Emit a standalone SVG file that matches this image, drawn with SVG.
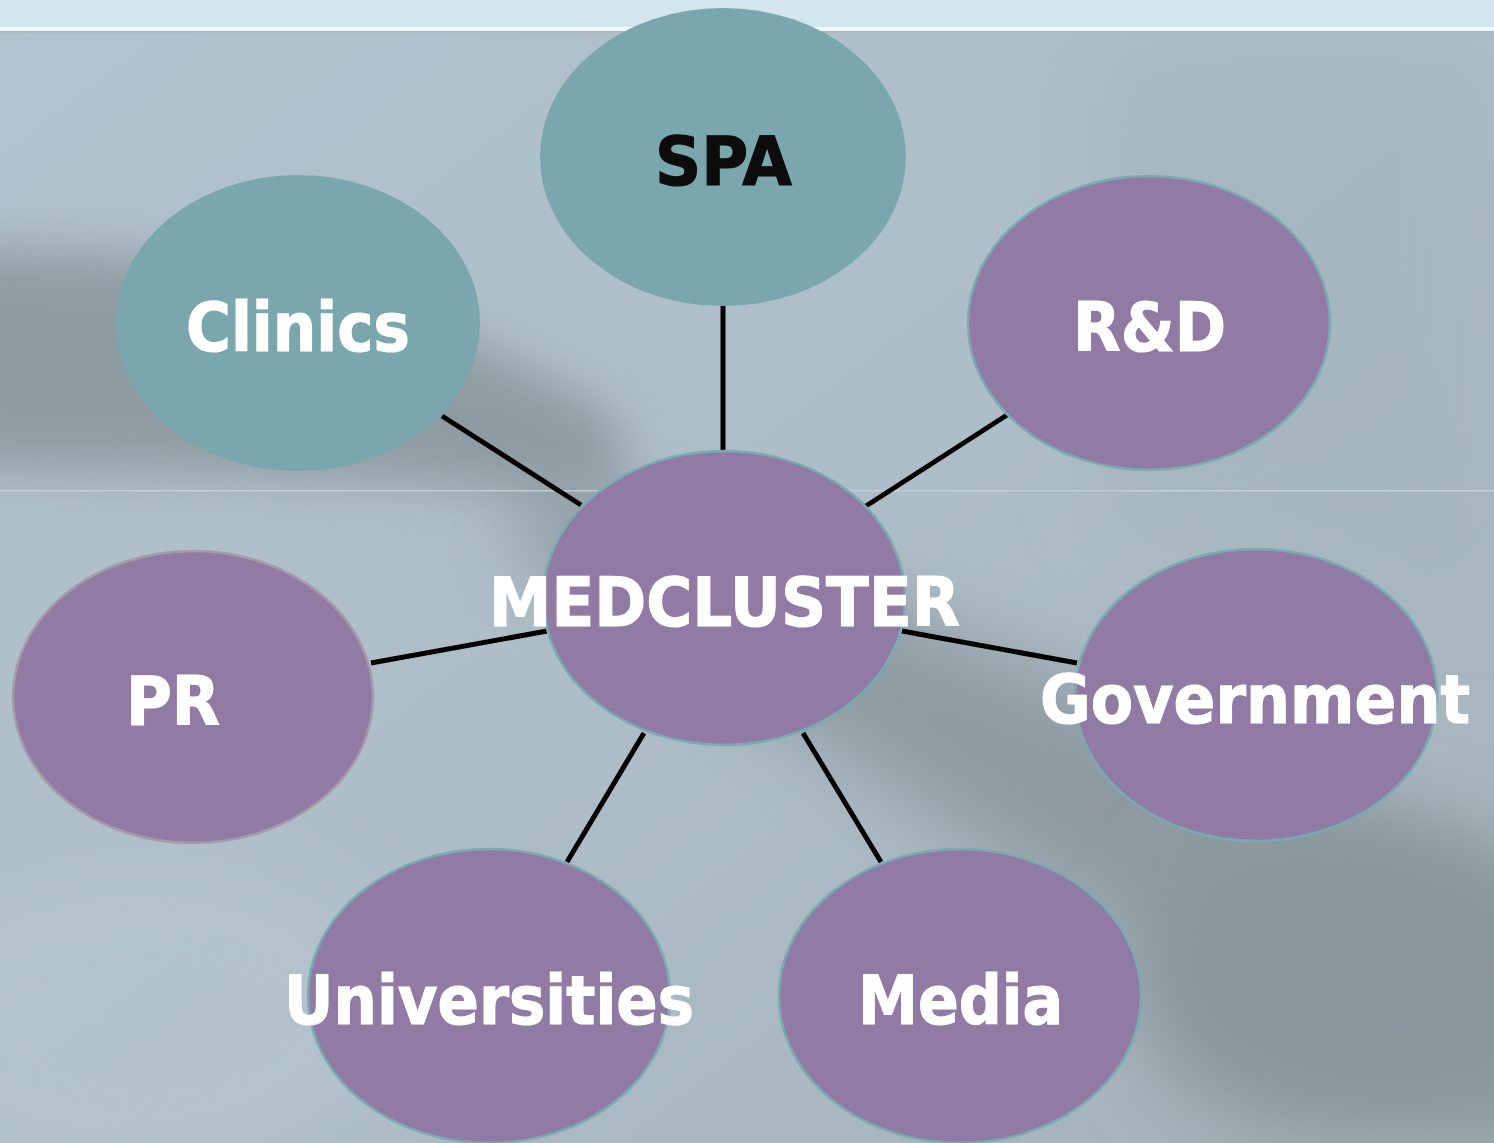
<svg xmlns="http://www.w3.org/2000/svg" width="1494" height="1143" viewBox="0 0 1494 1143">
<defs>
<style>
.teal{fill:#7aa6ae;}
.purple{fill:#917aa4;stroke:#7aaab2;stroke-width:2.5;}
.lbl{font-family:"DejaVu Sans","Liberation Sans",sans-serif;font-weight:bold;font-size:68px;fill:#ffffff;stroke:#ffffff;stroke-width:1.2;}
.dark{fill:#0c0c0c;stroke:#0c0c0c;}
.conn line{stroke:#000000;stroke-width:5;stroke-linecap:butt;}
</style>
<linearGradient id="bg" x1="0" y1="0" x2="1" y2="1">
<stop offset="0" stop-color="#b2c2ce"/>
<stop offset="0.5" stop-color="#aebec8"/>
<stop offset="1" stop-color="#a3b1b9"/>
</linearGradient>
<filter id="blur" x="-50%" y="-50%" width="200%" height="200%"><feGaussianBlur stdDeviation="40"/></filter>
<filter id="blur2" x="-50%" y="-50%" width="200%" height="200%"><feGaussianBlur stdDeviation="25"/></filter>
</defs>
<g id="background">
<rect x="0" y="0" width="1494" height="1143" fill="url(#bg)"/>
<path d="M -60 250 C 150 240 400 280 620 420 L 620 500 C 400 480 150 470 -60 470 Z" fill="#8e9aa1" filter="url(#blur2)" opacity="0.95"/>
<path d="M 520 470 C 800 560 1100 700 1560 900 L 1560 1160 C 1300 1080 1100 900 520 560 Z" fill="#8b979e" filter="url(#blur)" opacity="0.9"/>
<path d="M 1100 40 L 1494 40 L 1494 600 L 1100 520 Z" fill="#a3b3bb" filter="url(#blur)" opacity="0.6"/>
<ellipse cx="1350" cy="980" rx="220" ry="160" fill="#8a969d" filter="url(#blur)"/>
<ellipse cx="150" cy="1020" rx="260" ry="160" fill="#b5c4cf" filter="url(#blur)" opacity="0.7"/>
<rect x="0" y="0" width="1494" height="27" fill="#d3e6ee"/>
<rect x="0" y="27" width="1494" height="4" fill="#f2f8fa"/>
<rect x="0" y="31" width="1494" height="1.5" fill="#a9b6bd"/>
<rect x="0" y="490" width="1494" height="1.5" fill="#c8d4da" opacity="0.8"/>
</g>
<g id="connectors" class="conn">
<line x1="723" y1="305" x2="723" y2="451"/>
<line x1="442" y1="416" x2="581" y2="505"/>
<line x1="1007" y1="415" x2="866" y2="506"/>
<line x1="371" y1="663" x2="547" y2="631"/>
<line x1="902" y1="631" x2="1077" y2="663"/>
<line x1="644" y1="733" x2="567" y2="862"/>
<line x1="803" y1="733" x2="881" y2="862"/>
</g>
<g id="node-spa">
<ellipse class="teal" cx="723" cy="157" rx="183" ry="149"/>
<text class="lbl dark" x="655" y="185" textLength="137" lengthAdjust="spacingAndGlyphs">SPA</text>
</g>
<g id="node-clinics">
<ellipse class="teal" cx="298" cy="323" rx="182" ry="148"/>
<text class="lbl" x="186" y="351" textLength="224" lengthAdjust="spacingAndGlyphs">Clinics</text>
</g>
<g id="node-rd">
<ellipse class="purple" cx="1149" cy="323" rx="181" ry="147"/>
<text class="lbl" x="1073" y="351" textLength="153" lengthAdjust="spacingAndGlyphs">R&amp;D</text>
</g>
<g id="node-medcluster">
<ellipse class="purple" cx="724" cy="598" rx="181" ry="147"/>
<text class="lbl" x="489" y="626" textLength="471" lengthAdjust="spacingAndGlyphs">MEDCLUSTER</text>
</g>
<g id="node-pr">
<ellipse class="purple" cx="193" cy="697" rx="180" ry="146" style="stroke:#a49aa8"/>
<text class="lbl" x="126" y="725" textLength="94" lengthAdjust="spacingAndGlyphs">PR</text>
</g>
<g id="node-government">
<ellipse class="purple" cx="1256" cy="695" rx="181" ry="146"/>
<text class="lbl" x="1040" y="723" textLength="430" lengthAdjust="spacingAndGlyphs">Government</text>
</g>
<g id="node-universities">
<ellipse class="purple" cx="489" cy="996" rx="181" ry="147"/>
<text class="lbl" x="284" y="1024" textLength="410" lengthAdjust="spacingAndGlyphs">Universities</text>
</g>
<g id="node-media">
<ellipse class="purple" cx="960" cy="996" rx="181" ry="147"/>
<text class="lbl" x="858" y="1024" textLength="205" lengthAdjust="spacingAndGlyphs">Media</text>
</g>
</svg>
